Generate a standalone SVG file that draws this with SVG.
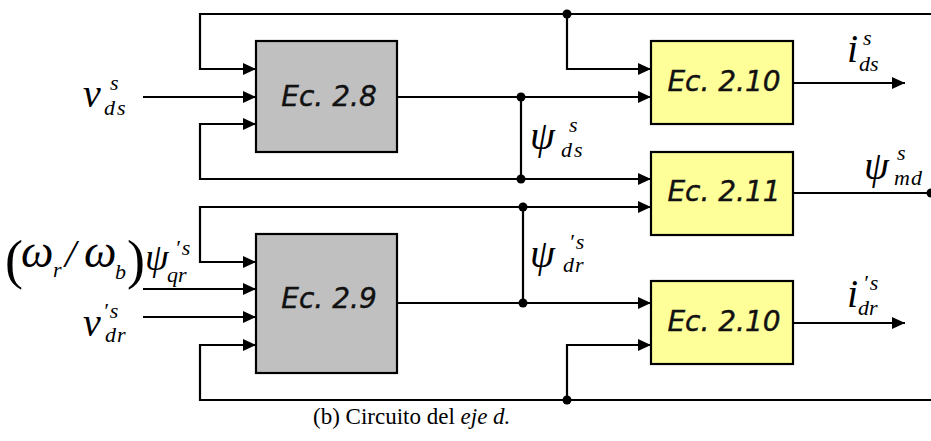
<svg xmlns="http://www.w3.org/2000/svg" width="931" height="441" viewBox="0 0 931 441">
<defs>
<marker id="ah" markerUnits="userSpaceOnUse" markerWidth="14" markerHeight="12" refX="13" refY="6" orient="auto">
<path d="M0,0 L13,6 L0,12 z" fill="#000"/>
</marker>
<style>
.w{fill:none;stroke:#000;stroke-width:2.2}
.a{marker-end:url(#ah)}
.dot{fill:#000}
.gray{fill:#c0c0c0;stroke:#000;stroke-width:2.2}
.yel{fill:#ffff99;stroke:#000;stroke-width:2.2}
.ec{font-family:"DejaVu Sans",sans-serif;font-style:oblique;font-size:28px;text-anchor:middle;fill:#111;stroke:#111;stroke-width:0.4}
.m{font-family:"Liberation Serif","Times New Roman",serif;font-style:italic;fill:#000}
.big{font-size:40px}
.sm{font-size:22px}
.cap{font-family:"Liberation Serif","Times New Roman",serif;font-size:23px;fill:#000}
</style>
</defs>
<rect width="931" height="441" fill="#fff"/>
<g id="connectors">
<path class="w a" d="M931,14 H200 V69 H256"/>
<path class="w a" d="M567,14 V69 H651"/>
<path class="w a" d="M143,97 H256"/>
<path class="w a" d="M397,97 H651"/>
<path class="w" d="M521,97 V179"/>
<path class="w a" d="M521,179 H200 V124 H256"/>
<path class="w a" d="M521,179 H651"/>
<path class="w a" d="M793,83 H905"/>
<path class="w" d="M793,193 H931"/>
<path class="w a" d="M523,207 H200 V262 H256"/>
<path class="w a" d="M523,207 H651"/>
<path class="w" d="M523,207 V303"/>
<path class="w a" d="M397,303 H651"/>
<path class="w a" d="M143,289 H256"/>
<path class="w a" d="M143,317 H256"/>
<path class="w a" d="M931,400 H200 V345 H256"/>
<path class="w a" d="M567,400 V345 H651"/>
<path class="w a" d="M793,323 H905"/>
<circle class="dot" cx="567" cy="14" r="4.5"/>
<circle class="dot" cx="521" cy="97" r="4.5"/>
<circle class="dot" cx="521" cy="179" r="4.5"/>
<circle class="dot" cx="523" cy="207" r="4.5"/>
<circle class="dot" cx="523" cy="303" r="4.5"/>
<circle class="dot" cx="567" cy="400" r="4.5"/>
<circle class="dot" cx="931" cy="193" r="4.5"/>
</g>
<g id="ec28">
<rect class="gray" x="256" y="41" width="141" height="111"/>
<text class="ec" x="329" y="106">Ec. 2.8</text>
</g>
<g id="ec29">
<rect class="gray" x="256" y="234" width="141" height="139"/>
<text class="ec" x="329" y="308">Ec. 2.9</text>
</g>
<g id="ec210a">
<rect class="yel" x="651" y="41" width="142" height="83"/>
<text class="ec" x="724" y="91">Ec. 2.10</text>
</g>
<g id="ec211">
<rect class="yel" x="651" y="152" width="142" height="83"/>
<text class="ec" x="724" y="201">Ec. 2.11</text>
</g>
<g id="ec210b">
<rect class="yel" x="651" y="281" width="142" height="83"/>
<text class="ec" x="724" y="331">Ec. 2.10</text>
</g>
<g id="labels">
<text class="m"><tspan class="big" x="83" y="107">v</tspan><tspan class="sm" x="110" y="90">s</tspan><tspan class="sm" x="104" y="115" letter-spacing="2">ds</tspan></text>
<text class="m"><tspan class="big" x="83" y="336">v</tspan><tspan class="sm" x="103" y="318" letter-spacing="2">′s</tspan><tspan class="sm" x="105" y="342" letter-spacing="1">dr</tspan></text>
<text class="m"><tspan style="font-size:54px;font-style:normal" x="5" y="278">(</tspan><tspan style="font-size:46px" x="21" y="267">ω</tspan><tspan class="sm" x="53" y="277">r</tspan><tspan class="big" x="65" y="267">/</tspan><tspan style="font-size:46px" x="84" y="267">ω</tspan><tspan class="sm" x="115" y="279">b</tspan><tspan style="font-size:54px;font-style:normal" x="127" y="278">)</tspan><tspan style="font-size:38px" x="145" y="270">ψ</tspan><tspan class="sm" x="175" y="255" letter-spacing="2">′s</tspan><tspan class="sm" x="167" y="282">qr</tspan></text>
<text class="m"><tspan class="big" x="530" y="149">ψ</tspan><tspan class="sm" x="569" y="132">s</tspan><tspan class="sm" x="561" y="157" letter-spacing="2">ds</tspan></text>
<text class="m"><tspan class="big" x="530" y="267">ψ</tspan><tspan class="sm" x="569" y="249" letter-spacing="2">′s</tspan><tspan class="sm" x="563" y="272" letter-spacing="1">dr</tspan></text>
<text class="m"><tspan class="big" x="847" y="62">i</tspan><tspan class="sm" x="863" y="45">s</tspan><tspan class="sm" x="859" y="71">ds</tspan></text>
<text class="m"><tspan class="big" x="864" y="179">ψ</tspan><tspan class="sm" x="897" y="160">s</tspan><tspan class="sm" x="894" y="185" letter-spacing="1">md</tspan></text>
<text class="m"><tspan class="big" x="847" y="307">i</tspan><tspan class="sm" x="863" y="290" letter-spacing="2">′s</tspan><tspan class="sm" x="858" y="315">dr</tspan></text>
</g>
<text class="cap" x="313" y="424">(b) Circuito del <tspan font-style="italic">eje d.</tspan></text>
</svg>
